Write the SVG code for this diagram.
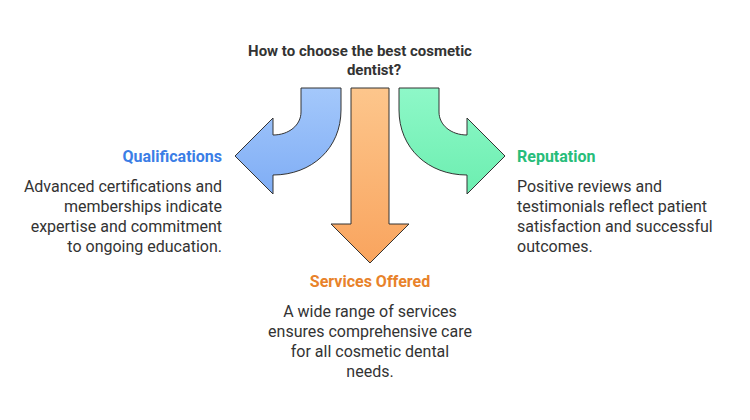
<svg xmlns="http://www.w3.org/2000/svg" width="750" height="420" viewBox="0 0 750 420">
<defs>
<linearGradient id="gb" x1="0" y1="0" x2="0" y2="1"><stop offset="0" stop-color="#a4c8fb"/><stop offset="1" stop-color="#7fadf5"/></linearGradient>
<linearGradient id="go" x1="0" y1="0" x2="0" y2="1"><stop offset="0" stop-color="#fdc68c"/><stop offset="1" stop-color="#f9a45e"/></linearGradient>
<linearGradient id="gg" x1="0" y1="0" x2="0" y2="1"><stop offset="0" stop-color="#8ef8c8"/><stop offset="1" stop-color="#6ceeb0"/></linearGradient>
<style>
text{font-family:Roboto,"Liberation Sans",sans-serif}
.t{font-size:15px;font-weight:bold;fill:#333}
.h{font-size:16px;font-weight:bold}
.d{font-size:16px;fill:#333}
.a{stroke:#333;stroke-width:1;stroke-linejoin:miter}
</style>
</defs>
<g id="title"><text class="t" text-anchor="middle" x="360" y="56">How to choose the best cosmetic</text><text class="t" text-anchor="middle" x="374" y="75">dentist?</text></g>
<g id="connectors">
<path class="a" fill="url(#gb)" d="M301,88 L341,88 L341,110 C341,148 312,175 273,175 L273,194 L235,156 L273,118 L273,135 C289,135 301,125 301,112 Z"/>
<path class="a" fill="url(#go)" d="M351,88 L389,88 L389,224 L409,224 L370,263 L331,224 L351,224 Z"/>
<path class="a" fill="url(#gg)" d="M439,88 L399,88 L399,110 C399,148 428,175 467,175 L467,194 L505,156 L467,118 L467,135 C451,135 439,125 439,112 Z"/>
</g>
<g id="qualifications"><text class="h" fill="#3b7ee6" text-anchor="end" x="222" y="162">Qualifications</text>
<g text-anchor="end"><text class="d" x="222" y="192">Advanced certifications and</text><text class="d" x="222" y="212">memberships indicate</text><text class="d" x="222" y="232">expertise and commitment</text><text class="d" x="222" y="252">to ongoing education.</text></g></g>
<g id="reputation"><text class="h" fill="#27bd7a" x="517" y="162">Reputation</text>
<text class="d" x="517" y="192">Positive reviews and</text><text class="d" x="517" y="212">testimonials reflect patient</text><text class="d" x="517" y="232">satisfaction and successful</text><text class="d" x="517" y="252">outcomes.</text></g>
<g id="services"><text class="h" fill="#e8822a" text-anchor="middle" x="370" y="287">Services Offered</text>
<g text-anchor="middle"><text class="d" x="370" y="317">A wide range of services</text><text class="d" x="370" y="337">ensures comprehensive care</text><text class="d" x="370" y="357">for all cosmetic dental</text><text class="d" x="370" y="377">needs.</text></g></g>
</svg>
